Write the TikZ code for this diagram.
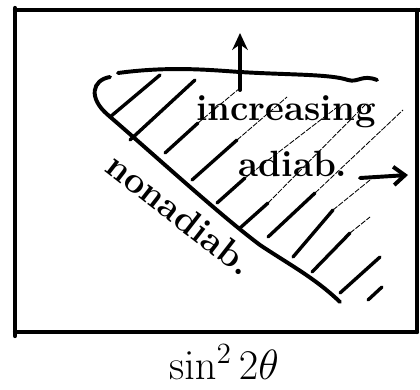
\documentclass[tikz,border=0pt]{standalone}
\usepackage{tikz}
\usepackage{amsmath}
\usetikzlibrary{arrows.meta, positioning, calc}

\tikzset{
  hand/.style={font=\fontsize{26}{30}\selectfont\bfseries, inner sep=0pt},
  frameline/.style={line width=3pt, line cap=round},
  boundary/.style={line width=2.8pt, line cap=round, line join=round},
  hatch/.style={line width=2.4pt, line cap=round},
  pointer/.style={line width=2.8pt, line cap=round},
  faint/.style={line width=0.6pt, dashed, dash pattern=on 4pt off 1pt}
}

\begin{document}
\begin{tikzpicture}[x=0.025cm, y=-0.025cm]
                \useasboundingbox (0,0) rectangle (420,389);

                % frame of the plot
                \draw[frameline] (15,8) -- (15,336);
                \draw[frameline] (15,10) -- (420,10);
                \draw[frameline] (417,10) -- (417,332);
                \draw[frameline] (15,332) -- (417,332);

                % boundary of the adiabatic region
                \draw[boundary] (118,73) .. controls (170,66) and (210,70) .. (240,72)
                    .. controls (290,75) and (330,74) .. (348,80)
                    .. controls (358,83) and (362,74) .. (377,80);
                \draw[boundary] (110,77) .. controls (92,80) and (88,98) .. (108,115)
                    .. controls (160,160) and (220,215) .. (260,245)
                    .. controls (290,265) and (315,278) .. (340,302);

                % hatching, bold at the lower end, faint further up
                \foreach \xa/\ya/\xb/\yb in {110/117/160/75, 130/140/195/80,
                    165/153/198/123, 192/180/237/140, 217/203/245/178,
                    240/228/268/203, 268/237/315/193, 293/257/333/210,
                    312/272/350/233, 340/293/380/257, 368/300/382/287}
                    \draw[hatch] (\xa,\ya) -- (\xb,\yb);
                \foreach \xa/\ya/\xb/\yb in {198/123/240/88, 237/140/287/97,
                    245/178/340/105, 268/203/367/103, 315/193/403/110,
                    333/210/370/180, 350/233/370/217}
                    \draw[faint] (\xa,\ya) -- (\xb,\yb);

                % labels
                \node[hand] (incr) at (286,112) {increasing};
                \node[hand] (adiab) at (293,164) {adiab.};
                \node[hand, rotate=-38] (nonadiab) at (180,214) {nonadiab.};
                \node[font=\huge, scale=1.45, inner sep=0pt] (xlabel) at (224,362) {$\sin^2 2\theta$};

                % directions of increasing adiabaticity
                \coordinate (upfoot) at (240,90);
                \coordinate (uptip) at (240,33);
                \coordinate (rightfoot) at (360,178);
                \coordinate (righttip) at (408,175);
                \draw[pointer, -{Stealth[length=12pt, width=11pt]}] (upfoot) -- (uptip);
                \draw[pointer, -{Straight Barb[length=8pt, width=13pt]}] (rightfoot) -- (righttip);
            \end{tikzpicture}
\end{document}
